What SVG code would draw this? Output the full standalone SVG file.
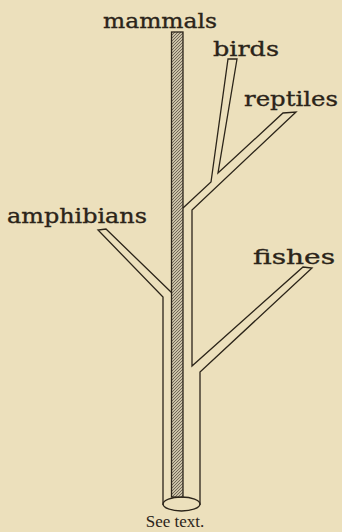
<svg xmlns="http://www.w3.org/2000/svg" width="342" height="532" viewBox="0 0 342 532">
<defs>
<pattern id="hatch" patternUnits="userSpaceOnUse" width="3" height="3">
<rect width="3" height="3" fill="#c9c0a6"/>
<path d="M-1,1 L1,-1 M0,3 L3,0 M2,4 L4,2" stroke="#4a4035" stroke-width="0.7"/>
</pattern>
</defs>
<style>
.ln{fill:none;stroke:#2b2419;stroke-width:1.3;stroke-linejoin:miter}
.lbl{font-family:"DejaVu Serif","Liberation Serif",serif;font-size:21px;fill:#2b2419;stroke:#2b2419;stroke-width:0.35}
.cap{font-family:"Liberation Serif","Times New Roman",serif;font-size:17px;fill:#2b2419}
</style>
<rect width="342" height="532" fill="#ece0bc"/>
<g id="connectors">
<path class="ln" d="M183,208 L211,182 L228,59 L237,59 L218,173 L283,113 L296,112 L192,210 L192,366 L303,267 L312,268 L200,372 L200,505"/>
<path class="ln" d="M172,293 L106,229 L98,230 L163,297 L163,505"/>
<ellipse class="ln" cx="181.5" cy="504" rx="18.5" ry="7"/>
</g>
<g id="mammals">
<rect x="171.5" y="32" width="11.5" height="465" fill="url(#hatch)" stroke="#2b2419" stroke-width="1.3"/>
<text class="lbl" x="103" y="28" textLength="114" lengthAdjust="spacingAndGlyphs">mammals</text>
</g>
<g id="birds">
<text class="lbl" x="213" y="56" textLength="66" lengthAdjust="spacingAndGlyphs">birds</text>
</g>
<g id="reptiles">
<text class="lbl" x="244" y="106" textLength="94" lengthAdjust="spacingAndGlyphs">reptiles</text>
</g>
<g id="amphibians">
<text class="lbl" x="7" y="223" textLength="140" lengthAdjust="spacingAndGlyphs">amphibians</text>
</g>
<g id="fishes">
<text class="lbl" x="253" y="264" textLength="82" lengthAdjust="spacingAndGlyphs">fishes</text>
</g>
<text class="cap" x="175" y="527" text-anchor="middle">See text.</text>
</svg>
